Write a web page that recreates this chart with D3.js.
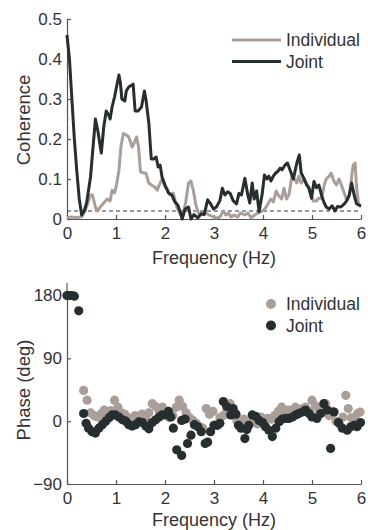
<!DOCTYPE html>
<html><head><meta charset="utf-8">
<script src="https://cdn.jsdelivr.net/npm/d3@7/dist/d3.min.js"></script>
<style>body{margin:0;background:#fff}svg{display:block}text{font-family:"Liberation Sans",Arial,sans-serif;fill:#333}</style>
</head><body>
<script>
const seriesNames = ["Individual", "Joint"];
const xTicks = [0,1,2,3,4,5,6];
const cohTicks = [0,0.1,0.2,0.3,0.4,0.5];
const phaseTicks = [-90,0,90,180];
const threshold = 0.02;

const cohFreqJoint = [0,0.05,0.1,0.15,0.2,0.25,0.3,0.35,0.4,0.48,0.58,0.63,0.7,0.75,0.8,0.85,0.88,0.92,0.97,1.01,1.06,1.09,1.12,1.18,1.21,1.26,1.35,1.39,1.45,1.52,1.58,1.61,1.67,1.72,1.77,1.82,1.86,1.9,1.94,2.0,2.07,2.14,2.2,2.26,2.31,2.35,2.41,2.48,2.53,2.59,2.67,2.74,2.8,2.87,2.92,2.99,3.05,3.12,3.17,3.22,3.28,3.33,3.39,3.46,3.51,3.56,3.63,3.69,3.73,3.78,3.82,3.87,3.92,3.98,4.03,4.08,4.12,4.16,4.21,4.26,4.31,4.35,4.39,4.45,4.5,4.55,4.62,4.69,4.74,4.78,4.84,4.89,4.94,4.99,5.04,5.09,5.14,5.2,5.25,5.29,5.35,5.41,5.47,5.52,5.59,5.66,5.71,5.76,5.81,5.86,5.91,5.98,6.0];
const cohJoint = [0.46,0.40,0.30,0.20,0.12,0.05,0.01,0.02,0.04,0.105,0.25,0.22,0.165,0.23,0.27,0.26,0.25,0.28,0.305,0.33,0.36,0.34,0.30,0.295,0.32,0.33,0.337,0.27,0.27,0.28,0.32,0.30,0.24,0.15,0.15,0.155,0.13,0.135,0.105,0.085,0.065,0.06,0.043,0.035,0.018,0.0,0.025,0.03,0.0,0.011,0.003,0.013,0.011,0.048,0.04,0.025,0.03,0.046,0.077,0.06,0.068,0.064,0.046,0.038,0.064,0.06,0.102,0.06,0.04,0.09,0.05,0.07,0.018,0.06,0.11,0.10,0.107,0.095,0.107,0.115,0.12,0.127,0.123,0.135,0.14,0.123,0.10,0.14,0.16,0.115,0.10,0.085,0.077,0.052,0.094,0.078,0.085,0.057,0.04,0.03,0.025,0.033,0.02,0.031,0.03,0.038,0.046,0.06,0.09,0.06,0.038,0.033,0.033];

const cohFreqIndiv = [0,0.1,0.2,0.3,0.37,0.48,0.52,0.58,0.62,0.68,0.75,0.82,0.88,0.92,0.97,1.01,1.06,1.1,1.15,1.21,1.26,1.33,1.37,1.42,1.46,1.5,1.57,1.61,1.67,1.72,1.79,1.84,1.9,1.94,2.0,2.05,2.1,2.17,2.24,2.31,2.37,2.42,2.48,2.53,2.58,2.63,2.68,2.75,2.83,2.9,2.99,3.05,3.12,3.19,3.24,3.29,3.35,3.41,3.48,3.54,3.63,3.69,3.76,3.83,3.9,3.98,4.04,4.11,4.16,4.21,4.27,4.31,4.38,4.43,4.48,4.53,4.59,4.64,4.69,4.73,4.78,4.84,4.91,4.98,5.03,5.09,5.14,5.2,5.25,5.29,5.35,5.39,5.45,5.5,5.55,5.6,5.66,5.71,5.76,5.81,5.84,5.88,5.91,5.95,6.0];
const cohIndiv = [0.003,0.005,0.003,0.006,0.02,0.06,0.06,0.03,0.02,0.03,0.04,0.05,0.045,0.072,0.065,0.085,0.122,0.18,0.214,0.21,0.205,0.18,0.19,0.205,0.18,0.118,0.115,0.115,0.09,0.085,0.08,0.072,0.09,0.10,0.08,0.075,0.06,0.065,0.03,0.012,0.015,0.04,0.09,0.095,0.07,0.035,0.015,0.012,0.015,0.01,0.005,0.002,0.005,0.02,0.01,0.015,0.005,0.01,0.005,0.015,0.01,0.015,0.003,0.01,0.015,0.02,0.025,0.04,0.05,0.043,0.07,0.06,0.05,0.077,0.05,0.06,0.107,0.10,0.09,0.107,0.09,0.10,0.085,0.058,0.045,0.045,0.052,0.052,0.085,0.10,0.107,0.115,0.094,0.085,0.10,0.085,0.064,0.047,0.057,0.107,0.135,0.14,0.078,0.038,0.033];

const phFreqIndiv = [0.34,0.41,0.48,0.55,0.62,0.69,0.76,0.83,0.9,0.97,1.04,1.11,1.18,1.25,1.32,1.39,1.46,1.53,1.6,1.67,1.74,1.81,1.88,1.95,2.02,2.09,2.16,2.23,2.29,2.36,2.43,2.5,2.57,2.64,2.71,2.77,2.84,2.91,2.98,3.05,3.12,3.19,3.26,3.33,3.4,3.47,3.54,3.61,3.68,3.75,3.82,3.89,3.96,4.03,4.1,4.17,4.24,4.31,4.38,4.45,4.52,4.59,4.66,4.73,4.8,4.87,4.94,5.0,5.07,5.14,5.21,5.28,5.35,5.42,5.49,5.56,5.63,5.69,5.74,5.8,5.86,5.93,5.98];
const phIndiv = [44,30,12,8,6,10,16,12,15,30,20,12,10,5,3,8,7,10,5,12,25,21,15,20,10,5,8,20,30,21,12,5,1,-3,-8,-10,18,10,14,-5,5,8,15,25,8,0,-6,3,-4,-2,2,-4,6,-2,4,3,8,14,20,12,16,13,20,14,18,20,14,30,22,14,18,25,8,14,0,-4,6,37,18,5,2,11,13];

const phFreqJoint = [0.0,0.05,0.1,0.15,0.24,0.34,0.39,0.44,0.51,0.58,0.65,0.72,0.79,0.86,0.92,0.99,1.06,1.13,1.2,1.26,1.33,1.4,1.47,1.54,1.61,1.67,1.74,1.81,1.88,1.94,2.01,2.07,2.12,2.17,2.24,2.34,2.34,2.41,2.46,2.53,2.6,2.67,2.74,2.82,2.87,2.93,3.0,3.07,3.12,3.19,3.26,3.34,3.39,3.45,3.5,3.55,3.63,3.67,3.71,3.78,3.85,3.92,3.99,4.05,4.12,4.19,4.26,4.33,4.39,4.46,4.53,4.6,4.67,4.73,4.8,4.87,4.94,5.0,5.1,5.18,5.24,5.31,5.38,5.45,5.54,5.62,5.72,5.79,5.86,5.92,5.99];
const phJoint = [180,180,180,179,158,11,-3,-10,-15,-17,-10,-5,0,5,9,9,6,2,0,-5,-7,-5,-1,-2,-7,-11,-2,2,6,9,9,14,6,-10,-41,-49,1,3,-32,-20,-5,-8,-15,-32,-30,-15,-6,-6,-3,28,21,9,18,10,-6,-10,-25,-12,-6,9,7,1,-2,-8,-13,-22,-10,-1,3,4,4,6,9,11,13,16,11,6,4,11,25,16,-39,13,-2,-10,-13,-8,-6,-8,-2];

const colIndiv = "#a99f98", colJoint = "#262e30", axisCol = "#555";

const svg = d3.select("body").append("svg").attr("width",368).attr("height",530);

const x = d3.scaleLinear().domain([0,6]).range([67,361]);
const yC = d3.scaleLinear().domain([0,0.5]).range([219,19]);
const yP = d3.scaleLinear().domain([-90,180]).range([484,295.5]);

function styleAxis(g){
  g.selectAll("path").attr("stroke",axisCol).attr("stroke-width",1.2);
  g.selectAll("line").attr("stroke",axisCol).attr("stroke-width",1.2);
  g.selectAll("text").attr("font-size",17).attr("fill","#333");
}
svg.append("g").attr("transform","translate(0,219)")
  .call(d3.axisBottom(x).tickValues(xTicks).tickFormat(d3.format("d")).tickSizeInner(-4).tickSizeOuter(0).tickPadding(8))
  .call(styleAxis);
svg.append("g").attr("transform","translate(67,0)")
  .call(d3.axisLeft(yC).tickValues(cohTicks).tickFormat(d=>d===0?"0":d3.format(".1f")(d)).tickSizeInner(-4).tickSizeOuter(0).tickPadding(5))
  .call(styleAxis);

svg.append("line").attr("x1",x(0)).attr("x2",x(6)).attr("y1",yC(threshold)).attr("y2",yC(threshold))
  .attr("stroke","#333").attr("stroke-width",1).attr("stroke-dasharray","4,3");

const lineGen = (fs)=>d3.line().x((d,i)=>x(fs[i])).y(d=>yC(d));
svg.append("path").datum(cohIndiv).attr("d",lineGen(cohFreqIndiv))
  .attr("fill","none").attr("stroke",colIndiv).attr("stroke-width",3).attr("stroke-linejoin","round");
svg.append("path").datum(cohJoint).attr("d",lineGen(cohFreqJoint))
  .attr("fill","none").attr("stroke",colJoint).attr("stroke-width",3).attr("stroke-linejoin","round");

[[colIndiv,40,seriesNames[0]],[colJoint,61.5,seriesNames[1]]].forEach(([c,yy,t])=>{
  svg.append("line").attr("x1",232).attr("x2",281).attr("y1",yy).attr("y2",yy).attr("stroke",c).attr("stroke-width",3);
  svg.append("text").attr("x",286).attr("y",yy+6).attr("font-size",17.5).text(t);
});

svg.append("text").attr("x",214).attr("y",264).attr("text-anchor","middle").attr("font-size",18).text("Frequency (Hz)");
svg.append("text").attr("transform","translate(30,120) rotate(-90)").attr("text-anchor","middle").attr("font-size",18.5).text("Coherence");

svg.append("g").attr("transform","translate(0,484)")
  .call(d3.axisBottom(x).tickValues(xTicks).tickFormat(d3.format("d")).tickSizeInner(-4).tickSizeOuter(0).tickPadding(8))
  .call(styleAxis);
svg.append("g").attr("transform","translate(67,0)")
  .call(d3.axisLeft(yP).tickValues(phaseTicks).tickFormat(d=>d<0?"\u2212"+Math.abs(d):d).tickSizeInner(-4).tickSizeOuter(0).tickPadding(5))
  .call(styleAxis);
svg.append("line").attr("x1",67).attr("x2",67).attr("y1",283).attr("y2",yP(180)).attr("stroke",axisCol).attr("stroke-width",1.2);

svg.append("g").selectAll("circle").data(phIndiv).join("circle")
  .attr("cx",(d,i)=>x(phFreqIndiv[i])).attr("cy",d=>yP(d)).attr("r",4.6).attr("fill",colIndiv);
svg.append("g").selectAll("circle").data(phJoint).join("circle")
  .attr("cx",(d,i)=>x(phFreqJoint[i])).attr("cy",d=>yP(d)).attr("r",4.6).attr("fill",colJoint);

[[colIndiv,304,seriesNames[0]],[colJoint,325.5,seriesNames[1]]].forEach(([c,yy,t])=>{
  svg.append("circle").attr("cx",271).attr("cy",yy).attr("r",5).attr("fill",c);
  svg.append("text").attr("x",286).attr("y",yy+6).attr("font-size",17.5).text(t);
});

svg.append("text").attr("x",214).attr("y",526).attr("text-anchor","middle").attr("font-size",18).text("Frequency (Hz)");
svg.append("text").attr("transform","translate(30,390) rotate(-90)").attr("text-anchor","middle").attr("font-size",18.5).text("Phase (deg)");
</script>
</body></html>
